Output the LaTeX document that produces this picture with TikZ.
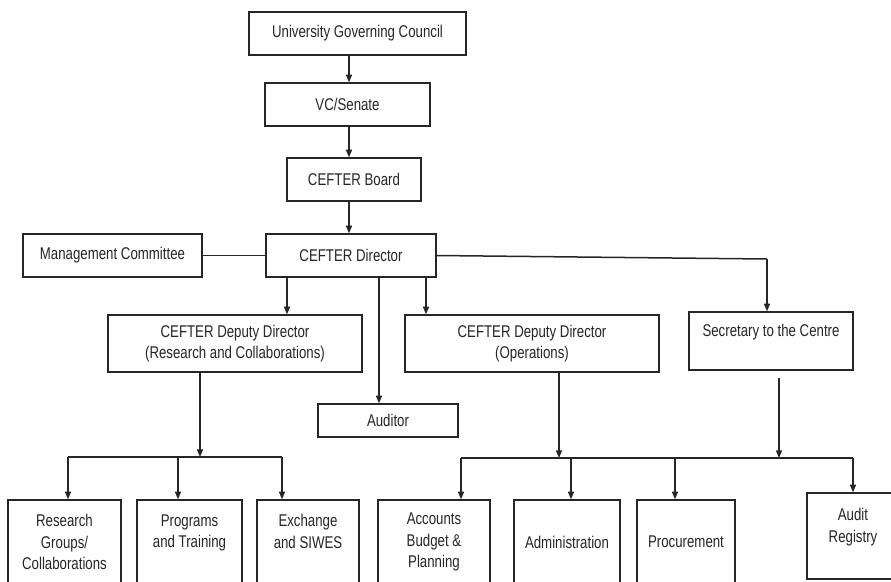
\documentclass[tikz,border=0pt]{standalone}
\usepackage{fontspec}
\setmainfont[FakeStretch=0.78]{Liberation Sans}
\usetikzlibrary{arrows.meta}
\definecolor{Line}{HTML}{262626}
\definecolor{Paper}{HTML}{FFFFFF}
\tikzset{
  unit/.style={draw=Line, line width=0.4mm, fill=Paper, align=center, inner sep=0pt, text=Line, font=\fontsize{14.5pt}{18.6pt}\selectfont},
  boxpx/.style 2 args={minimum width=#1*0.3mm, minimum height=#2*0.3mm},
  link/.style={draw=Line, line width=0.45mm},
  linkarrow/.style={link, -{Triangle[length=2.3mm, width=1.8mm]}},
}
\begin{document}
\begin{tikzpicture}[x=0.3mm, y=-0.3mm]
    \useasboundingbox (0,0) rectangle (891,581);
    \clip (0,0) rectangle (891,581);
    \node[unit, boxpx={217}{43}] (council) at (357.5,33.5) {University Governing Council};
    \node[unit, boxpx={165}{43}] (vc) at (347.5,104.5) {VC/Senate};
    \node[unit, boxpx={134}{43}] (board) at (354,179.5) {CEFTER Board};
    \node[unit, boxpx={170}{43}] (director) at (351,255.5) {CEFTER Director};
    \node[unit, boxpx={179}{43}] (mgmt) at (112.5,255.5) {Management Committee};
    \node[unit, boxpx={254}{57}] (dres) at (235,343.5) {CEFTER Deputy Director\\(Research and Collaborations)};
    \node[unit, boxpx={254}{57}] (dops) at (532,343.5) {CEFTER Deputy Director\\(Operations)};
    \node[unit, boxpx={164}{58}] (sec) at (771,341) {Secretary to the Centre\\~};
    \node[unit, boxpx={140}{33}] (auditor) at (388,420.5) {Auditor};
    \node[unit, boxpx={113}{84}] (research) at (64.5,542) {Research\\Groups/\\Collaborations};
    \node[unit, boxpx={105}{84}] (programs) at (189.5,542) {Programs\\and Training\\~};
    \node[unit, boxpx={102}{84}] (exchange) at (308,542) {Exchange\\and SIWES\\~};
    \node[unit, boxpx={112}{84}] (accounts) at (434,542) {Accounts\\Budget \&\\Planning};
    \node[unit, boxpx={106}{84}] (admin) at (567,542) {Administration};
    \node[unit, boxpx={98}{84}] (procure) at (686,542) {Procurement};
    \node[unit, boxpx={92}{86}] (registry) at (853,536) {Audit\\Registry\\~};
    \coordinate (spine) at (349,0);
    \coordinate (todres) at (287,0);
    \coordinate (toauditor) at (379,0);
    \coordinate (todops) at (426,0);
    \coordinate (secbend) at (767,259);
    \coordinate (lbus) at (200,457);
    \coordinate (rbus) at (559,458);
    \draw[linkarrow] (council.south -| spine) -- (vc.north -| spine);
    \draw[linkarrow] (vc.south -| spine) -- (board.north -| spine);
    \draw[linkarrow] (board.south -| spine) -- (director.north -| spine);
    \draw[link] (mgmt) -- (director);
    \draw[linkarrow] (director.south -| todres) -- (dres.north -| todres);
    \draw[linkarrow] (director.south -| toauditor) -- (auditor.north -| toauditor);
    \draw[linkarrow] (director.south -| todops) -- (dops.north -| todops);
    \draw[link] (director.east) -- (secbend);
    \draw[linkarrow] (secbend) -- (sec.north -| secbend);
    \draw[linkarrow] (dres.south -| lbus) -- (lbus);
    \draw[link] (68,0 |- lbus) -- (282,0 |- lbus);
    \foreach \x/\n in {68/research, 178/programs, 282/exchange}
      \draw[linkarrow] (\x,0 |- lbus) -- (\x,0 |- \n.north);
    \draw[linkarrow] (dops.south -| rbus) -- (rbus);
    \draw[linkarrow, shorten <=2.1mm] (sec.south -| 779,0) -- (779,0 |- rbus);
    \draw[link] (461,0 |- rbus) -- (853,0 |- rbus);
    \foreach \x/\n in {461/accounts, 571/admin, 675/procure, 853/registry}
      \draw[linkarrow] (\x,0 |- rbus) -- (\x,0 |- \n.north);
  \end{tikzpicture}
\end{document}
